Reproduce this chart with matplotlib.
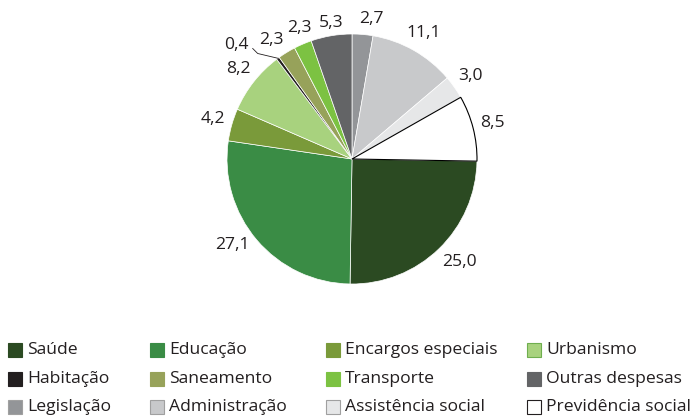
import numpy as np
import matplotlib
matplotlib.use("Agg")
import matplotlib.pyplot as plt
from matplotlib.patches import Rectangle

plt.rcParams['font.family'] = ['Open Sans', 'DejaVu Sans']

# slices, clockwise from 12 o'clock
categories = ['Legislação', 'Administração', 'Assistência social', 'Previdência social',
              'Saúde', 'Educação', 'Encargos especiais', 'Urbanismo',
              'Habitação', 'Saneamento', 'Transporte', 'Outras despesas']
values = [2.7, 11.1, 3.0, 8.5, 25.0, 27.1, 4.2, 8.2, 0.4, 2.3, 2.3, 5.3]
value_labels = ['2,7', '11,1', '3,0', '8,5', '25,0', '27,1', '4,2', '8,2',
                '0,4', '2,3', '2,3', '5,3']
colours = ['#939598', '#c8c9cb', '#e6e7e8', '#ffffff',
           '#2b4a22', '#3a8c45', '#7a9a3a', '#a8d27e',
           '#231f20', '#97a25a', '#7cc242', '#636466']

# legend reading order (row by row)
legend_order = ['Saúde', 'Educação', 'Encargos especiais', 'Urbanismo',
                'Habitação', 'Saneamento', 'Transporte', 'Outras despesas',
                'Legislação', 'Administração', 'Assistência social', 'Previdência social']

# small nudges (degrees, radius) so the crowded labels don't collide
nudge = {'Educação': (-4.5, 1.18), 'Saúde': (2, 1.19), 'Saneamento': (2.5, 1.15),
         'Transporte': (-1.5, 1.13), 'Outras despesas': (-1, 1.1), 'Legislação': (-3, 1.13)}

W, H = 698, 417
FS = 12.6
fig = plt.figure(figsize=(W / 100, H / 100), dpi=100)

cx, cy, r = 352, 159, 125
ax = fig.add_axes([(cx - r) / W, (H - cy - r) / H, 2 * r / W, 2 * r / H])
wedges, _ = ax.pie(values, colors=colours, startangle=90, counterclock=False,
                   wedgeprops=dict(edgecolor='white', linewidth=0.5))
ax.set_xlim(-1, 1)
ax.set_ylim(-1, 1)
ax.axis('off')

# white slice gets a black outline
wedges[3].set_edgecolor('black')
wedges[3].set_linewidth(0.8)
wedges[3].set_zorder(3)

for w, lab, cat in zip(wedges, value_labels, categories):
    mid = (w.theta1 + w.theta2) / 2
    if cat == 'Habitação':
        ang = np.deg2rad(mid + 9)
        tx, ty = 1.3 * np.cos(ang), 1.3 * np.sin(ang)
        ax.text(tx, ty, lab, ha='center', va='center', fontsize=FS, color='#231f20')
        ex, ey = np.cos(np.deg2rad(mid)), np.sin(np.deg2rad(mid))
        ax.plot([tx + 0.13, tx + 0.17, ex], [ty - 0.03, ty - 0.07, ey],
                color='#231f20', lw=0.6, clip_on=False)
        continue
    da, d = nudge.get(cat, (0, 1.16))
    ang = np.deg2rad(mid + da)
    ax.text(d * np.cos(ang), d * np.sin(ang), lab, ha='center', va='center',
            fontsize=FS, color='#231f20')

# legend drawn on an overlay in pixel units
lg = fig.add_axes([0, 0, 1, 1], zorder=-1)
lg.set_xlim(0, W)
lg.set_ylim(H, 0)
lg.axis('off')
col_x = [8, 150, 326, 527]
row_y = [350, 379, 407]
sq = 14
for i, cat in enumerate(legend_order):
    x = col_x[i % 4]
    y = row_y[i // 4]
    c = colours[categories.index(cat)]
    edge = c
    if cat == 'Previdência social':
        edge = '#231f20'
    elif cat in ('Legislação', 'Administração', 'Assistência social'):
        edge = '#a0a0a0'
    elif cat == 'Urbanismo':
        edge = '#6fae4f'
    lg.add_patch(Rectangle((x, y - sq / 2), sq, sq, facecolor=c, edgecolor=edge, lw=0.8))
    lg.text(x + sq + 5, y, cat, ha='left', va='center', fontsize=FS, color='#231f20')

fig.savefig('out.png', dpi=100)
